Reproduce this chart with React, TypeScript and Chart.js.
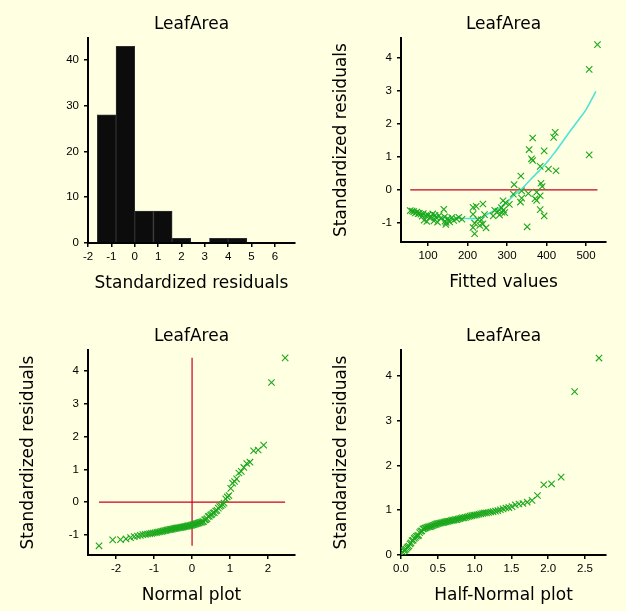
import React, { useEffect, useRef } from "react";
import { Chart, registerables } from "chart.js";
Chart.register(...registerables);

const BG = "#ffffe1";
const PANEL_TITLE = "LeafArea";

// ---- Histogram of standardized residuals ----
const histBinEdges = [-1.6, -0.8, 0, 0.8, 1.6, 2.4, 3.2, 4.0, 4.8];
const histCounts = [28, 43, 7, 7, 1, 0, 1, 1];
const histXTicks = [-2, -1, 0, 1, 2, 3, 4, 5, 6];
const histYTicks = [0, 10, 20, 30, 40];

// ---- Fitted values vs standardized residuals ----
const fittedValues = [
  337, 375, 354, 316, 384, 337, 371, 375, 290, 334,
  296, 239, 306, 222, 214, 286, 140, 384, 291, 269,
  55, 60, 277, 64, 72, 287, 294, 68, 78, 75,
  88, 112, 82, 214, 243, 281, 100, 118, 94, 128,
  394, 265, 85, 108, 142, 178, 120, 160, 104, 132,
  150, 172, 186, 226, 235, 90, 165, 115, 143, 97,
  155, 124, 146, 218, 239, 145, 231, 351, 214, 247,
  218,
  529, 508, 422, 418, 365, 356, 394, 508, 362, 365,
  384, 405, 424, 335, 318, 386, 389,
];
const stdResiduals = [
  -0.03, -0.07, -0.11, -0.13, -0.18, -0.25, -0.27, -0.32, -0.33, -0.37,
  -0.39, -0.43, -0.44, -0.5, -0.53, -0.54, -0.59, -0.6, -0.61, -0.62,
  -0.63, -0.64, -0.65, -0.66, -0.67, -0.68, -0.69, -0.7, -0.71, -0.72,
  -0.72, -0.73, -0.74, -0.74, -0.75, -0.76, -0.76, -0.77, -0.78, -0.78,
  -0.79, -0.79, -0.8, -0.81, -0.82, -0.83, -0.83, -0.84, -0.85, -0.86,
  -0.87, -0.88, -0.89, -0.9, -0.91, -0.92, -0.93, -0.94, -0.95, -0.96,
  -0.97, -0.98, -0.99, -1.01, -1.03, -1.05, -1.08, -1.12, -1.14, -1.15,
  -1.33,
  4.4, 3.65, 1.74, 1.59, 1.57, 1.22, 1.18, 1.06, 0.94, 0.89,
  0.71, 0.63, 0.58, 0.42, 0.16, 0.2, 0.1,
];
const smoothFitted = [55, 80, 100, 130, 160, 200, 230, 250, 270, 290, 300, 320, 340, 360, 380, 400, 420, 440, 460, 480, 500, 525];
const smoothResid = [-0.6, -0.72, -0.78, -0.84, -0.86, -0.87, -0.86, -0.74, -0.62, -0.47, -0.37, -0.14, 0.06, 0.32, 0.56, 0.82, 1.12, 1.45, 1.78, 2.1, 2.43, 2.98];
const fitXTicks = [100, 200, 300, 400, 500];
const residYTicks = [-1, 0, 1, 2, 3, 4];

// ---- Normal plot ----
const normalScores = [
  -2.45, -2.09, -1.885, -1.74, -1.62, -1.524, -1.439, -1.363, -1.295, -1.231,
  -1.173, -1.118, -1.066, -1.018, -0.971, -0.926, -0.884, -0.843, -0.803, -0.764,
  -0.727, -0.69, -0.655, -0.62, -0.586, -0.553, -0.52, -0.488, -0.456, -0.424,
  -0.393, -0.363, -0.333, -0.303, -0.273, -0.244, -0.215, -0.186, -0.157, -0.128,
  -0.1, -0.071, -0.043, -0.014, 0.014, 0.043, 0.071, 0.1, 0.128, 0.157,
  0.186, 0.215, 0.244, 0.273, 0.303, 0.333, 0.363, 0.393, 0.424, 0.456,
  0.488, 0.52, 0.553, 0.586, 0.62, 0.655, 0.69, 0.727, 0.764, 0.803,
  0.843, 0.884, 0.926, 0.971, 1.018, 1.066, 1.118, 1.173, 1.231, 1.295,
  1.363, 1.439, 1.524, 1.62, 1.74, 1.885, 2.09, 2.45,
];
const normXTicks = [-2, -1, 0, 1, 2];

// ---- Half-normal plot ----
const halfNormalScores = [
  0.009, 0.023, 0.037, 0.051, 0.066, 0.08, 0.094, 0.108, 0.123, 0.137,
  0.151, 0.166, 0.18, 0.195, 0.209, 0.224, 0.239, 0.253, 0.268, 0.282,
  0.298, 0.312, 0.328, 0.342, 0.358, 0.372, 0.388, 0.403, 0.418, 0.434,
  0.45, 0.466, 0.481, 0.497, 0.514, 0.53, 0.546, 0.563, 0.58, 0.596,
  0.614, 0.631, 0.648, 0.666, 0.684, 0.702, 0.72, 0.739, 0.757, 0.776,
  0.796, 0.815, 0.835, 0.855, 0.876, 0.897, 0.919, 0.941, 0.963, 0.986,
  1.009, 1.033, 1.058, 1.083, 1.109, 1.135, 1.163, 1.191, 1.221, 1.251,
  1.283, 1.316, 1.35, 1.386, 1.425, 1.465, 1.508, 1.553, 1.602, 1.656,
  1.715, 1.78, 1.854, 1.94, 2.045, 2.175, 2.359, 2.69,
];
const halfXTicks = [0, 0.5, 1, 1.5, 2, 2.5];
const halfYTicks = [0, 1, 2, 3, 4];

const GREEN = "rgb(28,168,28)";
const RED = "#c8001e";
const CYAN = "rgba(70,225,215,0.95)";
const TICK_FONT = { family: "'Liberation Sans', Arial, sans-serif", size: 11.5 };

function axis(min: number, max: number, ticks: number[], isY: boolean, fmt?: (v: number) => string) {
  return {
    type: "linear",
    min,
    max,
    offset: false,
    afterBuildTicks: (s: any) => {
      s.ticks = ticks.map((v) => ({ value: v }));
    },
    afterFit: (s: any) => {
      if (isY) s.width = 40;
      else s.height = 40;
    },
    grid: { display: true, offset: false, drawOnChartArea: false, drawTicks: true, tickLength: 4, color: "#000", lineWidth: 1.5 },
    border: { display: true, color: "#000", width: 2 },
    ticks: {
      color: "#000",
      font: TICK_FONT,
      padding: isY ? 5 : 3,
      autoSkip: false,
      maxRotation: 0,
      callback: (v: any) => (fmt ? fmt(Number(v)) : String(v)),
    },
    title: { display: false },
  };
}

function textPlugin(xTitle: string, yTitle: string | null) {
  return {
    id: "panelText",
    afterDraw(chart: any) {
      const { ctx, chartArea: a } = chart;
      ctx.save();
      ctx.fillStyle = "#000";
      ctx.font = "17px 'DejaVu Sans', sans-serif";
      ctx.textAlign = "center";
      ctx.textBaseline = "alphabetic";
      const cx = (a.left + a.right) / 2;
      ctx.fillText(PANEL_TITLE, cx, a.top - 9);
      ctx.fillText(xTitle, cx, a.bottom + 45);
      if (yTitle) {
        ctx.translate(33, (a.top + a.bottom) / 2);
        ctx.rotate(-Math.PI / 2);
        ctx.fillText(yTitle, 0, 0);
      }
      ctx.restore();
    },
  };
}

const basePlugins = { legend: { display: false }, tooltip: { enabled: false }, title: { display: false } };

function pointsDs(data: { x: number; y: number }[]) {
  return {
    data,
    pointStyle: "crossRot",
    pointRadius: 4.5,
    pointBorderWidth: 1.1,
    borderColor: GREEN,
    backgroundColor: GREEN,
    showLine: false,
    order: 0,
  };
}
function lineDs(data: { x: number; y: number }[], color: string, width: number, tension = 0) {
  return {
    data,
    showLine: true,
    pointRadius: 0,
    borderColor: color,
    borderWidth: width,
    tension,
    fill: false,
    order: 1,
  };
}

function buildHistogram() {
  const data = histCounts.map((c, i) => ({ x: (histBinEdges[i] + histBinEdges[i + 1]) / 2, y: c }));
  return {
    type: "bar",
    data: {
      datasets: [
        {
          data,
          backgroundColor: "#0c0c0c",
          borderColor: "#2e2e2e",
          borderWidth: 1,
          barPercentage: 1,
          categoryPercentage: 1,
        },
      ],
    },
    options: {
      responsive: false,
      animation: false,
      devicePixelRatio: 1,
      layout: { padding: { left: 48, right: 18, top: 38, bottom: 22 } },
      plugins: basePlugins,
      scales: {
        x: axis(-2, 6.86, histXTicks, false),
        y: axis(0, 44.8, histYTicks, true),
      },
    },
    plugins: [textPlugin("Standardized residuals", null)],
  };
}

function buildFitted() {
  const pts = fittedValues.map((f, i) => ({ x: f, y: stdResiduals[i] }));
  const smooth = smoothFitted.map((f, i) => ({ x: f, y: smoothResid[i] }));
  const fMin = Math.min(...fittedValues);
  const fMax = Math.max(...fittedValues);
  return {
    type: "scatter",
    data: {
      datasets: [
        pointsDs(pts),
        lineDs(smooth, CYAN, 1.6, 0.3),
        lineDs([{ x: fMin, y: 0 }, { x: fMax, y: 0 }], RED, 1.2),
      ],
    },
    options: {
      responsive: false,
      animation: false,
      devicePixelRatio: 1,
      layout: { padding: { left: 48, right: 20, top: 38, bottom: 23 } },
      plugins: basePlugins,
      scales: {
        x: axis(31.6, 550.6, fitXTicks, false),
        y: axis(-1.58, 4.6, residYTicks, true),
      },
    },
    plugins: [textPlugin("Fitted values", "Standardized residuals")],
  };
}

function buildNormal() {
  const sorted = [...stdResiduals].sort((a, b) => a - b);
  const pts = normalScores.map((z, i) => ({ x: z, y: sorted[i] }));
  const zMin = Math.min(...normalScores);
  const zMax = Math.max(...normalScores);
  return {
    type: "scatter",
    data: {
      datasets: [
        pointsDs(pts),
        lineDs([{ x: zMin, y: 0 }, { x: zMax, y: 0 }], RED, 1.2),
        lineDs([{ x: 0, y: sorted[0] }, { x: 0, y: sorted[sorted.length - 1] }], RED, 1.2),
      ],
    },
    options: {
      responsive: false,
      animation: false,
      devicePixelRatio: 1,
      layout: { padding: { left: 48, right: 18, top: 45, bottom: 16 } },
      plugins: basePlugins,
      scales: {
        x: axis(-2.74, 2.71, normXTicks, false),
        y: axis(-1.61, 4.64, residYTicks, true),
      },
    },
    plugins: [textPlugin("Normal plot", "Standardized residuals")],
  };
}

function buildHalfNormal() {
  const absSorted = stdResiduals.map((r) => Math.abs(r)).sort((a, b) => a - b);
  const pts = halfNormalScores.map((z, i) => ({ x: z, y: absSorted[i] }));
  return {
    type: "scatter",
    data: { datasets: [pointsDs(pts)] },
    options: {
      responsive: false,
      animation: false,
      devicePixelRatio: 1,
      layout: { padding: { left: 48, right: 20, top: 45, bottom: 16 } },
      plugins: basePlugins,
      scales: {
        x: axis(0, 2.785, halfXTicks, false, (v) => v.toFixed(1)),
        y: axis(0, 4.58, halfYTicks, true),
      },
    },
    plugins: [textPlugin("Half-Normal plot", "Standardized residuals")],
  };
}

function Panel(props: { left: number; top: number; width: number; height: number; build: () => any }) {
  const ref = useRef<HTMLCanvasElement | null>(null);
  useEffect(() => {
    if (!ref.current) return;
    const chart = new Chart(ref.current, props.build());
    return () => chart.destroy();
  }, []);
  return (
    <canvas
      ref={ref}
      width={props.width}
      height={props.height}
      style={{ position: "absolute", left: props.left, top: props.top, width: props.width, height: props.height }}
    />
  );
}

export default function App() {
  useEffect(() => {
    document.body.style.margin = "0";
    document.body.style.background = BG;
  }, []);
  return (
    <div style={{ position: "fixed", left: 0, top: 0, width: 626, height: 611, background: BG, overflow: "hidden" }}>
      <Panel left={0} top={0} width={313} height={305} build={buildHistogram} />
      <Panel left={313} top={0} width={313} height={305} build={buildFitted} />
      <Panel left={0} top={305} width={313} height={306} build={buildNormal} />
      <Panel left={313} top={305} width={313} height={306} build={buildHalfNormal} />
    </div>
  );
}
